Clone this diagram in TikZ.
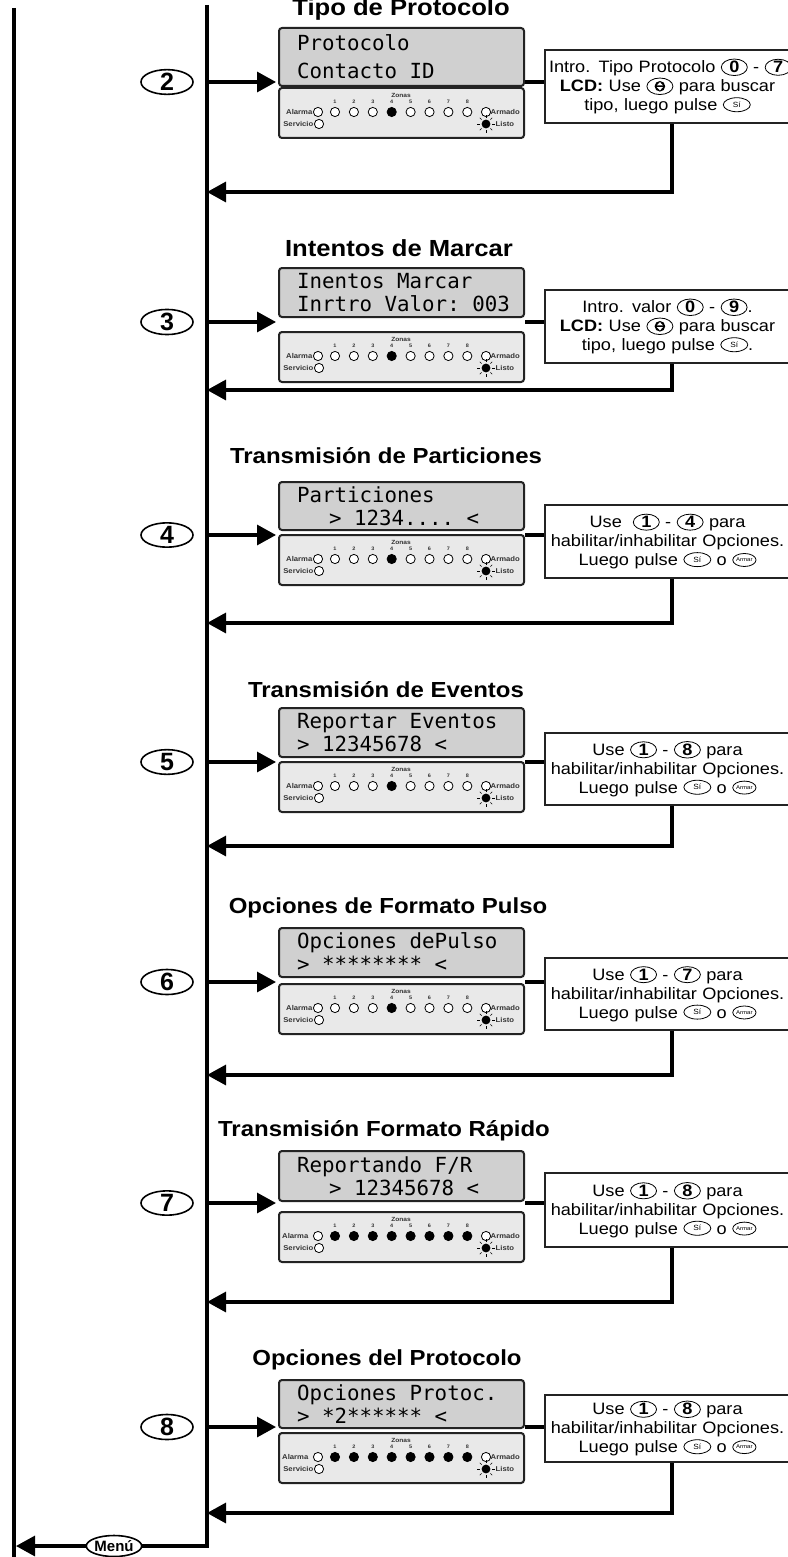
\documentclass[tikz,border=0pt]{standalone}
\usepackage{fontspec}
\setmainfont{Liberation Sans}[FakeStretch=1.1]
\newfontfamily\keyfont{Liberation Sans}
\newfontfamily\lcdfont{DejaVu Sans Mono}
\usetikzlibrary{arrows.meta,shapes.geometric}

\definecolor{lcdgray}{RGB}{208,208,208}
\definecolor{panelgray}{RGB}{233,233,233}
\definecolor{edgegray}{RGB}{35,35,35}

\tikzset{keycap/.style={draw, ellipse, line width=0.8pt, inner sep=0pt,
    minimum width=26pt, minimum height=15pt}}

% one LCD character cell
\newcommand{\lsp}{\hspace*{0.602em}}
% keys inside the instruction boxes
\newcommand{\numkey}[1]{\tikz[baseline=(k.base)]\node[keycap](k){\bfseries #1};}
\newcommand{\sikey}{\tikz[baseline={([yshift=-3.5pt]k.base)}]\node[keycap,
    minimum width=27pt, minimum height=14pt, font=\fontsize{7.5}{7.5}\selectfont](k){Sí};}
\newcommand{\armarkey}{\tikz[baseline={([yshift=-4pt]k.base)}]\node[keycap,
    minimum width=23pt, minimum height=13pt, font=\fontsize{5.5}{5.5}\selectfont](k){Armar};}
\newcommand{\arrowkey}{\tikz[baseline=(k.base)]{\node[keycap](k){\bfseries\phantom{0}};
    \fill (k.center) circle (5.3pt);
    \fill[white, shift={(k.center)}] (0pt,4.2pt) -- (-3.1pt,0.8pt) -- (3.1pt,0.8pt) -- cycle
      (0pt,-4.2pt) -- (-3.1pt,-0.8pt) -- (3.1pt,-0.8pt) -- cycle;}}

\begin{document}
\begin{tikzpicture}[x=1pt, y=-1pt,
    bus/.style={line width=3.2pt},
    flow/.style={line width=3.2pt, -{Triangle[length=19pt,width=20pt]}},
    heading/.style={anchor=base, inner sep=0pt, font=\fontsize{21.8}{25}\selectfont\bfseries},
    bigheading/.style={heading, font=\fontsize{23.3}{26}\selectfont\bfseries},
    lcd/.style={draw=edgegray, line width=2pt, rounded corners=3pt, fill=lcdgray,
      text width=209pt, inner xsep=18pt, align=left,
      font=\lcdfont\fontsize{20.8}{23}\selectfont},
    panel/.style={draw=edgegray, line width=2pt, rounded corners=3pt, fill=panelgray,
      minimum width=245pt, minimum height=50pt},
    stepkey/.style={draw, ellipse, line width=1.6pt, inner sep=0pt, minimum width=52pt,
      minimum height=22pt, font=\keyfont\fontsize{25}{25}\selectfont\bfseries},
    infobox/.style={draw=edgegray, line width=1.1pt, fill=white, text width=237pt,
      inner xsep=4pt, inner ysep=3pt, align=center, font=\fontsize{16.5}{19}\selectfont},
    led/.style={line width=0.8pt, fill=white},
    ledlabel/.style={inner sep=0.5pt, text=black!80, font=\fontsize{7}{7}\selectfont\bfseries}]

  \useasboundingbox (0,0) rectangle (787,1557);

  % Main lines
  \coordinate (top) at (207,5);
  \coordinate (bottom) at (207,1546);
  \coordinate (lefttop) at (14,8);
  \coordinate (leftbottom) at (14,1557);
  \coordinate (menuend) at (16,1546);
  \draw[bus] (lefttop) -- (leftbottom);

  % Step 2
  \node[bigheading] (h2) at (401,16) {Tipo de Protocolo};
  \node[lcd, minimum height=58pt, font=\lcdfont\fontsize{20.8}{28}\selectfont] (l2) at (401.5,57) {Protocolo\\Contacto\lsp ID};
  \node[panel] (p2) at (401.5,113) {};
  \node[stepkey] (k2) at (167,82) {2};
  \coordinate (t2) at (207,82);
  \coordinate (a2) at (276,82);
  \coordinate (r2) at (207,192);
  \node[infobox, minimum height=73pt] (b2) at (667.5,86.5)
    {\mbox{Intro. Tipo Protocolo \numkey{0} - \numkey{7}}\\
     \textbf{LCD:} Use \arrowkey{} para buscar\\ tipo, luego pulse \sikey};
  \draw[flow] (t2) -- (a2);
  \draw[bus] (l2.east |- t2) -- (b2.west |- t2);
  \draw[flow] ([xshift=4.5pt]b2.south) |- (r2);

  % Step 3
  \node[bigheading] (h3) at (399,256) {Intentos de Marcar};
  \node[lcd, minimum height=49pt] (l3) at (401.5,292.5) {Inentos\lsp Marcar\\Inrtro\lsp Valor:\lsp 003};
  \node[panel] (p3) at (401.5,357) {};
  \node[stepkey] (k3) at (167,322) {3};
  \coordinate (t3) at (207,322);
  \coordinate (a3) at (276,322);
  \coordinate (r3) at (207,390);
  \node[infobox, minimum height=73pt] (b3) at (667.5,326.5)
    {Intro. valor \numkey{0} - \numkey{9}.\\
     \textbf{LCD:} Use \arrowkey{} para buscar\\ tipo, luego pulse \sikey.};
  \draw[flow] (t3) -- (a3);
  \draw[bus] (l3.east |- t3) -- (b3.west |- t3);
  \draw[flow] ([xshift=4.5pt]b3.south) |- (r3);

  % Step 4
  \node[heading] (h4) at (386,463) {Transmisión de Particiones};
  \node[lcd, minimum height=48pt] (l4) at (401.5,506) {Particiones\\\hspace*{32pt}>\lsp 1234....\lsp <};
  \node[panel] (p4) at (401.5,560) {};
  \node[stepkey] (k4) at (167,535) {4};
  \coordinate (t4) at (207,535);
  \coordinate (a4) at (276,535);
  \coordinate (r4) at (207,623);
  \node[infobox, minimum height=73pt] (b4) at (667.5,541.5)
    {Use \ \numkey{1} - \numkey{4} para\\ habilitar/inhabilitar Opciones.\\
     Luego pulse \sikey{} o \armarkey};
  \draw[flow] (t4) -- (a4);
  \draw[bus] (l4.east |- t4) -- (b4.west |- t4);
  \draw[flow] ([xshift=4.5pt]b4.south) |- (r4);

  % Step 5
  \node[heading] (h5) at (386,697) {Transmisión de Eventos};
  \node[lcd, minimum height=49pt] (l5) at (401.5,732.5) {Reportar\lsp Eventos\\>\lsp 12345678\lsp <};
  \node[panel] (p5) at (401.5,787) {};
  \node[stepkey] (k5) at (167,762) {5};
  \coordinate (t5) at (207,762);
  \coordinate (a5) at (276,762);
  \coordinate (r5) at (207,846);
  \node[infobox, minimum height=72pt] (b5) at (667.5,769)
    {Use \numkey{1} - \numkey{8} para\\ habilitar/inhabilitar Opciones.\\
     Luego pulse \sikey{} o \armarkey};
  \draw[flow] (t5) -- (a5);
  \draw[bus] (l5.east |- t5) -- (b5.west |- t5);
  \draw[flow] ([xshift=4.5pt]b5.south) |- (r5);

  % Step 6
  \node[heading] (h6) at (388,913) {Opciones de Formato Pulso};
  \node[lcd, minimum height=49pt] (l6) at (401.5,952.5) {Opciones\lsp dePulso\\>\lsp ********\lsp <};
  \node[panel] (p6) at (401.5,1009) {};
  \node[stepkey] (k6) at (167,982) {6};
  \coordinate (t6) at (207,982);
  \coordinate (a6) at (276,982);
  \coordinate (r6) at (207,1075);
  \node[infobox, minimum height=72pt] (b6) at (667.5,994)
    {Use \numkey{1} - \numkey{7} para\\ habilitar/inhabilitar Opciones.\\
     Luego pulse \sikey{} o \armarkey};
  \draw[flow] (t6) -- (a6);
  \draw[bus] (l6.east |- t6) -- (b6.west |- t6);
  \draw[flow] ([xshift=4.5pt]b6.south) |- (r6);

  % Step 7
  \node[heading] (h7) at (384,1136) {Transmisión Formato Rápido};
  \node[lcd, minimum height=50pt] (l7) at (401.5,1176) {Reportando\lsp F/R\\\hspace*{32pt}>\lsp 12345678\lsp <};
  \node[panel] (p7) at (401.5,1237) {};
  \node[stepkey] (k7) at (167,1203) {7};
  \coordinate (t7) at (207,1203);
  \coordinate (a7) at (276,1203);
  \coordinate (r7) at (207,1302);
  \node[infobox, minimum height=74pt] (b7) at (667.5,1210)
    {Use \numkey{1} - \numkey{8} para\\ habilitar/inhabilitar Opciones.\\
     Luego pulse \sikey{} o \armarkey};
  \draw[flow] (t7) -- (a7);
  \draw[bus] (l7.east |- t7) -- (b7.west |- t7);
  \draw[flow] ([xshift=4.5pt]b7.south) |- (r7);

  % Step 8
  \node[heading] (h8) at (387,1365) {Opciones del Protocolo};
  \node[lcd, minimum height=48pt] (l8) at (401.5,1404) {Opciones\lsp Protoc.\\>\lsp *2******\lsp <};
  \node[panel] (p8) at (401.5,1458) {};
  \node[stepkey] (k8) at (167,1427) {8};
  \coordinate (t8) at (207,1427);
  \coordinate (a8) at (276,1427);
  \coordinate (r8) at (207,1513);
  \node[infobox, minimum height=67pt] (b8) at (667.5,1428.5)
    {Use \numkey{1} - \numkey{8} para\\ habilitar/inhabilitar Opciones.\\
     Luego pulse \sikey{} o \armarkey};
  \draw[flow] (t8) -- (a8);
  \draw[bus] (l8.east |- t8) -- (b8.west |- t8);
  \draw[flow] ([xshift=4.5pt]b8.south) |- (r8);

  % LED panels
  \foreach \p/\full in {p2/0,p3/0,p4/0,p5/0,p6/0,p7/1,p8/1} {
    \begin{scope}[shift={(\p.north west)}]
      \pgfmathsetmacro{\alx}{35-4*\full}
      \node[ledlabel, anchor=east] (\p-al) at (\alx,25) {Alarma};
      \draw[led] (40,25) circle (4.6);
      \node[ledlabel, anchor=east] (\p-se) at (36,37) {Servicio};
      \draw[led] (41,37) circle (4.6);
      \node[ledlabel, font=\fontsize{6}{6}\selectfont\bfseries] (\p-zo) at (123,8) {Zonas};
      \foreach \i in {1,...,8} {
        \pgfmathsetmacro{\ledx}{57+18.9*(\i-1)}
        \ifnum\i=4 \def\ledfill{black}\else\ifnum\full=1 \def\ledfill{black}\else\def\ledfill{white}\fi\fi
        \draw[led, fill=\ledfill] (\ledx,25) circle (4.6);
        \node[ledlabel, font=\fontsize{5}{5}\selectfont\bfseries] (\p-n\i) at (\ledx,14.5) {\i};
      }
      \draw[led] (208,25) circle (4.6);
      \node[ledlabel, anchor=west] (\p-ar) at (212,25) {Armado};
      \fill (208,37) circle (4.4);
      \foreach \a in {0,45,...,315}
        \draw[line width=0.6pt] (208,37) ++(\a:6.2) -- ++(\a:2.6);
      \node[ledlabel, anchor=west] (\p-li) at (217,37) {Listo};
    \end{scope}
  }

  % Back to the menu
  \node[draw, ellipse, line width=1.6pt, inner sep=0pt, minimum width=52pt, minimum height=21pt,
    font=\keyfont\fontsize{15}{15}\selectfont\bfseries] (menu) at (114,1546) {Menú};
  \draw[bus] (top) -- (bottom) -- (menu.east);
  \draw[flow] (menu.west) -- (menuend);
\end{tikzpicture}
\end{document}
